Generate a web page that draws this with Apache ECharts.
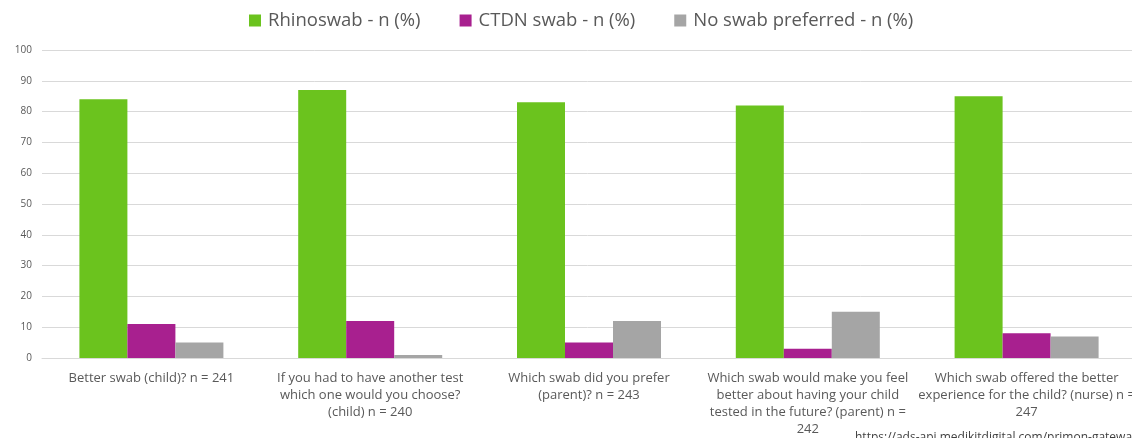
<!DOCTYPE html>
<html>
<head>
<meta charset="utf-8">
<script src="https://cdn.jsdelivr.net/npm/echarts@6/dist/echarts.min.js"></script>
<style>
html,body{margin:0;padding:0;background:#fff;}
#c{width:1132px;height:438px;}
</style>
</head>
<body>
<div id="c"></div>
<script>
const categories = [
  "Better swab (child)? n = 241",
  "If you had to have another test\nwhich one would you choose?\n(child) n = 240",
  "Which swab did you prefer\n(parent)? n = 243",
  "Which swab would make you feel\nbetter about having your child\ntested in the future? (parent) n =\n242",
  "Which swab offered the better\nexperience for the child? (nurse) n =\n247"
];
const seriesNames = ["Rhinoswab - n (%)", "CTDN swab - n (%)", "No swab preferred - n (%)"];
const rhinoswab = [84, 87, 83, 82, 85];
const ctdnSwab = [11, 12, 5, 3, 8];
const noSwab = [5, 1, 12, 15, 7];
const yTicks = [0, 10, 20, 30, 40, 50, 60, 70, 80, 90, 100];

const colors = ["#6BC31E", "#A8208F", "#A5A5A5"];
const fontFam = "'Open Sans', 'Liberation Sans', sans-serif";
const chart = echarts.init(document.getElementById('c'), null, {renderer: 'canvas'});
const valuesList = [rhinoswab, ctdnSwab, noSwab];
chart.setOption({
  animation: false,
  backgroundColor: '#ffffff',
  color: colors,
  textStyle: {fontFamily: fontFam},
  legend: {
    top: 6,
    left: 244,
    itemWidth: 12,
    itemHeight: 12,
    itemGap: 39,
    icon: 'rect',
    textStyle: {fontSize: 18.5, color: '#595959', fontFamily: fontFam, padding: [0, 0, 0, 2]},
    data: seriesNames
  },
  grid: {left: 42, width: 1094, top: 50, bottom: 80, containLabel: false, outerBoundsMode: 'none'},
  xAxis: {
    type: 'category',
    data: categories,
    axisTick: {show: false},
    axisLine: {lineStyle: {color: '#d9d9d9', width: 1}},
    axisLabel: {
      interval: 0,
      color: '#595959',
      fontSize: 13,
      lineHeight: 17,
      margin: 12,
      align: 'center',
      fontFamily: fontFam
    }
  },
  yAxis: {
    type: 'value',
    min: yTicks[0],
    max: yTicks[yTicks.length - 1],
    interval: yTicks[1] - yTicks[0],
    axisLine: {show: false},
    axisTick: {show: false},
    axisLabel: {color: '#595959', fontSize: 10, margin: 10, fontFamily: fontFam},
    splitLine: {lineStyle: {color: '#d9d9d9', width: 1}}
  },
  series: seriesNames.map((name, i) => ({
    name: name,
    type: 'bar',
    data: valuesList[i],
    barWidth: 48,
    barGap: '0%',
    itemStyle: {color: colors[i]}
  })),
  graphic: [{
    type: 'text',
    left: 855,
    top: 432,
    style: {text: 'https://ads-api.medikitdigital.com/primon-gateway', fill: '#404040', fontSize: 12, fontFamily: fontFam}
  }]
});
</script>
</body>
</html>
